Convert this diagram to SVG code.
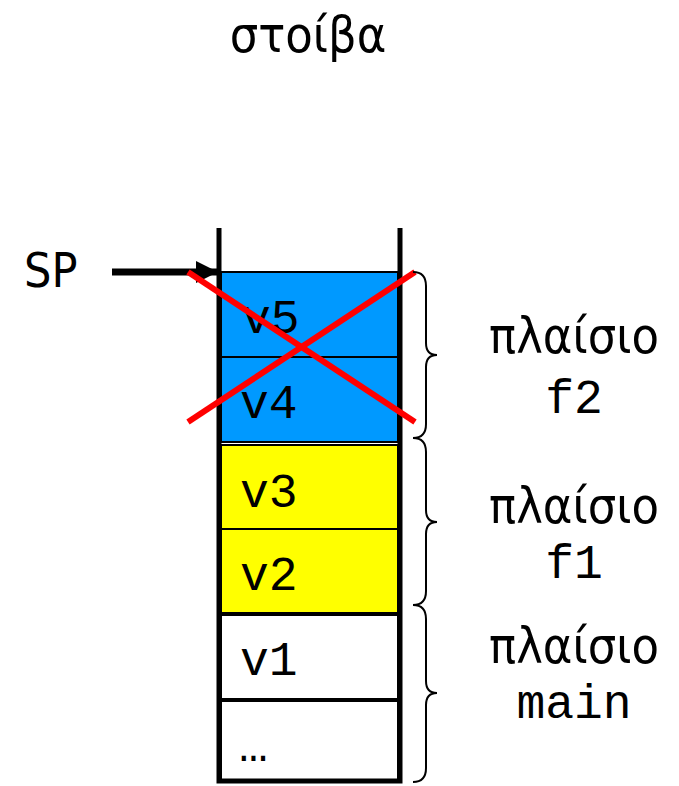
<svg xmlns="http://www.w3.org/2000/svg" width="679" height="786" viewBox="0 0 679 786">
<style>
.sans{font-family:"DejaVu Sans Condensed","DejaVu Sans","Noto Sans",sans-serif;font-stretch:condensed;fill:#000}
.mono{font-family:"Liberation Mono","Courier New",monospace;font-size:48px;fill:#000}
.cell{stroke:#000;stroke-width:2}
.wall{stroke:#000;stroke-width:5;fill:none}
.brace{stroke:#000;stroke-width:2;fill:none}
.cross{stroke:#FF0000;stroke-width:6;stroke-linecap:butt}
.lbl{font-size:50px}
</style>
<defs>
<marker id="ah" viewBox="0 0 10 10" refX="10" refY="5" markerWidth="25" markerHeight="22" markerUnits="userSpaceOnUse" orient="auto">
<path d="M0,0 L10,5 L0,10 Z" fill="#000"/>
</marker>
</defs>
<rect width="679" height="786" fill="#fff"/>
<g id="title"><text class="sans" x="308" y="52" font-size="50" text-anchor="middle">στοίβα</text></g>
<g id="cells">
<g id="v5"><rect class="cell" x="221" y="272" width="177" height="85" fill="#0099FF"/><text class="mono" x="242" y="333">v5</text></g>
<g id="v4"><rect class="cell" x="221" y="357" width="177" height="85" fill="#0099FF"/><text class="mono" x="240" y="418">v4</text></g>
<g id="v3"><rect class="cell" x="221" y="445" width="177" height="84" fill="#FFFF00"/><text class="mono" x="240" y="507">v3</text></g>
<g id="v2"><rect class="cell" x="221" y="529" width="177" height="84" fill="#FFFF00"/><text class="mono" x="240" y="590">v2</text></g>
<g id="v1"><rect class="cell" x="221" y="615" width="177" height="84" fill="#fff"/><text class="mono" x="240" y="675">v1</text></g>
<g id="dots"><rect class="cell" x="221" y="701" width="177" height="80" fill="#fff"/><text class="mono" x="239" y="761">…</text></g>
</g>
<g id="stack"><path class="wall" d="M219,228 V781 H400 V228"/></g>
<g id="sp"><text class="sans" x="24" y="287" font-size="48">SP</text></g>
<g id="connectors">
<line x1="112" y1="272" x2="218" y2="272" stroke="#000" stroke-width="7" marker-end="url(#ah)"/>
</g>
<g id="cross">
<line class="cross" x1="188" y1="272" x2="415" y2="422"/>
<line class="cross" x1="188" y1="422" x2="415" y2="272"/>
</g>
<g id="frame-f2">
<path class="brace" d="M413,272 Q426,272 426,286 L426,343 Q426,355 437,355 Q426,355 426,367 L426,424 Q426,438 413,438"/>
<text class="sans lbl" x="574" y="353" text-anchor="middle">πλαίσιο</text>
<text class="mono" x="574" y="413" text-anchor="middle">f2</text>
</g>
<g id="frame-f1">
<path class="brace" d="M413,438 Q426,438 426,452 L426,510 Q426,522 437,522 Q426,522 426,534 L426,591 Q426,605 413,605"/>
<text class="sans lbl" x="574" y="523" text-anchor="middle">πλαίσιο</text>
<text class="mono" x="574" y="578" text-anchor="middle">f1</text>
</g>
<g id="frame-main">
<path class="brace" d="M413,605 Q426,605 426,619 L426,681 Q426,693 437,693 Q426,693 426,705 L426,768 Q426,782 413,782"/>
<text class="sans lbl" x="574" y="663" text-anchor="middle">πλαίσιο</text>
<text class="mono" x="574" y="718" text-anchor="middle">main</text>
</g>
</svg>
